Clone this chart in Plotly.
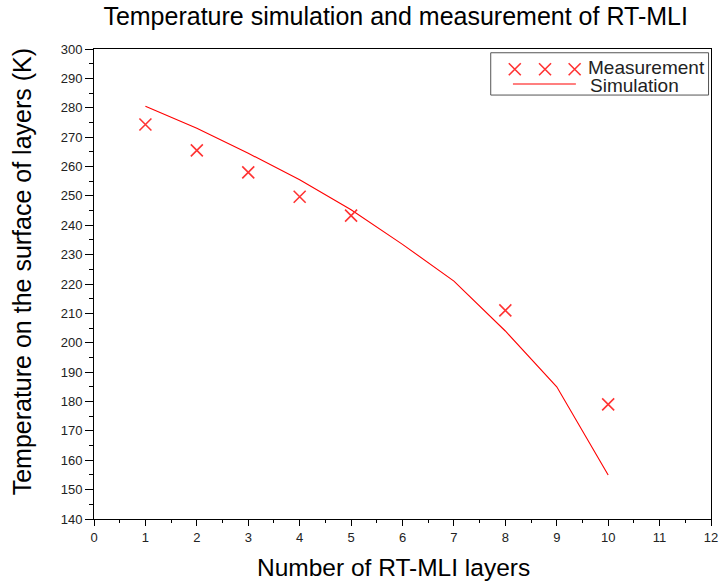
import plotly.graph_objects as go

# Measured surface temperatures (K) per number of RT-MLI layers
meas_layers = [1, 2, 3, 4, 5, 8, 10]
meas_temp = [274.3, 265.5, 258.0, 249.7, 243.3, 211.0, 179.0]

# Simulated surface temperatures (K)
sim_layers = [1, 2, 3, 4, 5, 6, 7, 8, 9, 10]
sim_temp = [280.5, 273.0, 264.5, 255.5, 245.3, 233.5, 221.0, 204.0, 185.0, 155.0]

x_ticks = list(range(0, 13))
y_ticks = list(range(140, 301, 10))

FONT = "Liberation Sans, Arial, sans-serif"
RED = "#ff0000"
MARK_RED = "#ff3333"

fig = go.Figure()

fig.add_trace(go.Scatter(
    x=sim_layers, y=sim_temp, mode="lines",
    line=dict(color=RED, width=1.1), showlegend=False, hoverinfo="skip",
))
fig.add_trace(go.Scatter(
    x=meas_layers, y=meas_temp, mode="markers",
    marker=dict(symbol="x-thin", size=12, line=dict(color=MARK_RED, width=1.6)),
    showlegend=False,
))

# Legend samples drawn on an overlay axis spanning the plot area (0..1)
fig.add_trace(go.Scatter(
    x=[0.682, 0.731, 0.779], y=[0.957, 0.957, 0.957], mode="markers",
    marker=dict(symbol="x-thin", size=12, line=dict(color=MARK_RED, width=1.6)),
    xaxis="x2", yaxis="y2", showlegend=False, hoverinfo="skip",
))
fig.add_trace(go.Scatter(
    x=[0.679, 0.781], y=[0.9255, 0.9255], mode="lines",
    line=dict(color=RED, width=1.1),
    xaxis="x2", yaxis="y2", showlegend=False, hoverinfo="skip",
))

axis_common = dict(
    showline=True, linecolor="black", linewidth=1, mirror=True,
    showgrid=False, zeroline=False,
    ticks="outside", tickwidth=1, tickcolor="black",
    tickfont=dict(family=FONT, size=13, color="#222222"),
)

fig.update_layout(
    width=726, height=583,
    margin=dict(l=94, r=8, t=49, b=64),
    paper_bgcolor="white", plot_bgcolor="white",
    title=dict(text="Temperature simulation and measurement of RT-MLI",
               x=0.545, xanchor="center", y=0.9726, yanchor="middle",
               font=dict(family=FONT, size=25, color="black")),
    xaxis=dict(range=[0, 12], tickvals=x_ticks, ticklen=6,
               minor=dict(dtick=0.5, ticks="outside", ticklen=3, tickcolor="black"),
               **axis_common),
    yaxis=dict(range=[140, 300], tickvals=y_ticks, ticklen=8,
               minor=dict(dtick=5, ticks="outside", ticklen=4, tickcolor="black"),
               **axis_common),
    xaxis2=dict(range=[0, 1], overlaying="x", visible=False, fixedrange=True),
    yaxis2=dict(range=[0, 1], overlaying="y", visible=False, fixedrange=True),
    showlegend=False,
)

# Axis titles
fig.add_annotation(text="Number of RT-MLI layers", xref="paper", yref="paper",
                   x=(395 - 94) / 620, y=-(567 - 519) / 470, xanchor="center", yanchor="middle",
                   showarrow=False, font=dict(family=FONT, size=24.5, color="black"))
fig.add_annotation(text="Temperature on the surface of layers (K)", xref="paper", yref="paper",
                   x=-(94 - 22) / 620, y=1 - (272 - 49) / 470, xanchor="center", yanchor="middle",
                   textangle=-90, showarrow=False, font=dict(family=FONT, size=25, color="black"))

# Legend frame and labels
fig.add_shape(type="rect", xref="paper", yref="paper",
              x0=0.643, x1=0.996, y0=0.902, y1=0.992,
              line=dict(color="#555555", width=1), fillcolor="white", layer="below")
fig.add_annotation(text="Measurement", xref="paper", yref="paper",
                   x=0.797, y=0.9596, xanchor="left", yanchor="middle", showarrow=False,
                   font=dict(family=FONT, size=19, color="#222222"))
fig.add_annotation(text="Simulation", xref="paper", yref="paper",
                   x=0.800, y=0.923, xanchor="left", yanchor="middle", showarrow=False,
                   font=dict(family=FONT, size=19, color="#222222"))

fig.write_html("out.html")
